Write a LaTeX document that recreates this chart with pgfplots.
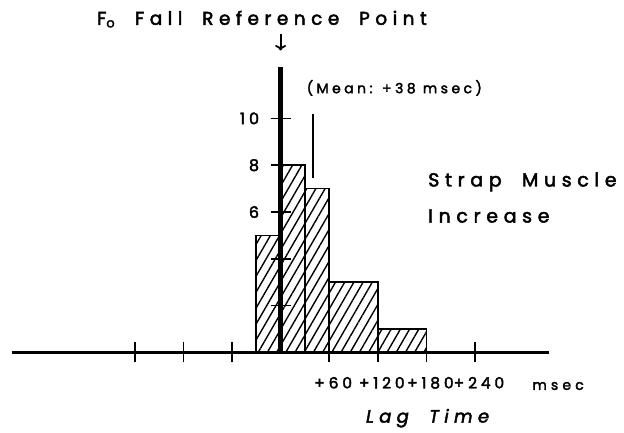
\documentclass[border=0pt]{standalone}
\usepackage{fontspec}
\setmainfont{Poppins}
\newfontfamily\wide[LetterSpace=25,FakeBold=2.5]{Poppins}
\newfontfamily\wider[LetterSpace=30,FakeBold=2.5]{Poppins}
\newfontfamily\widest[LetterSpace=30,WordSpace=1.9,FakeBold=2.5]{Poppins}
\usepackage{pgfplots}
\pgfplotsset{compat=1.18}
\usetikzlibrary{patterns.meta,arrows.meta}
\begin{document}
\begin{tikzpicture}
\begin{axis}[
  x=0.81bp, y=23.4bp,
  xmin=-332, xmax=331, ymin=0, ymax=12.2,
  axis lines=middle,
  axis line style={-},
  x axis line style={line width=3pt},
  y axis line style={line width=4.5pt},
  xtick={-180,-120,-60,60,120,180,240},
  xticklabels={,,,{+60},{+120},{+180},{+240}},
  ytick={2,4,6,8,10},
  yticklabels={,,6,8,10},
  tick style={black, line width=1.6pt},
  major tick length=20bp,
  tick align=center,
  xticklabel style={font=\wide\fontsize{15.5}{16}\selectfont, anchor=base, xshift=4bp, yshift=-26bp},
  yticklabel style={font=\wide\fontsize{16}{17}\selectfont, xshift=-8bp},
  /pgf/number format/assume math mode=true,
  clip=false,
]
\addplot[ybar interval, draw=black, line width=1.6pt,
  pattern={Lines[angle=60,distance=8pt,line width=1.4pt]}]
  coordinates {(-30,5) (0,8) (30,7) (60,3) (120,1) (180,1)};
\addplot[line width=1.2pt] coordinates {(40,7.44) (40,10.2)};
\draw[line width=2pt, -{To[length=5.5pt,width=11pt,line width=1.8pt]}] (axis cs:0,13.6) -- (axis cs:0,12.9);
\node[font=\widest\fontsize{18.5}{22}\selectfont, anchor=base] at (axis cs:-23,14.0) {F\textsubscript{o} Fall Reference Point};
\node[font=\wide\fontsize{14}{16}\selectfont, anchor=west] at (axis cs:28,11.3) {(Mean: +38 msec)};
\node[font=\widest\fontsize{19}{22}\selectfont, anchor=base west] at (axis cs:178,7.09) {Strap Muscle};
\node[font=\widest\fontsize{19}{22}\selectfont, anchor=base west] at (axis cs:178,5.55) {Increase};
\node[font=\wider\fontsize{14}{16}\selectfont, anchor=base] at (axis cs:342.6,-1.6) {msec};
\node[font=\wider\itshape\fontsize{18}{20}\selectfont, anchor=base] at (axis cs:181.5,-3.0) {Lag Time};
\coordinate (bl) at (axis cs:-346.4,-3.44);
\coordinate (tr) at (axis cs:424,15.06);
\end{axis}
\pgfresetboundingbox
\useasboundingbox (bl) rectangle (tr);
\end{tikzpicture}
\end{document}
